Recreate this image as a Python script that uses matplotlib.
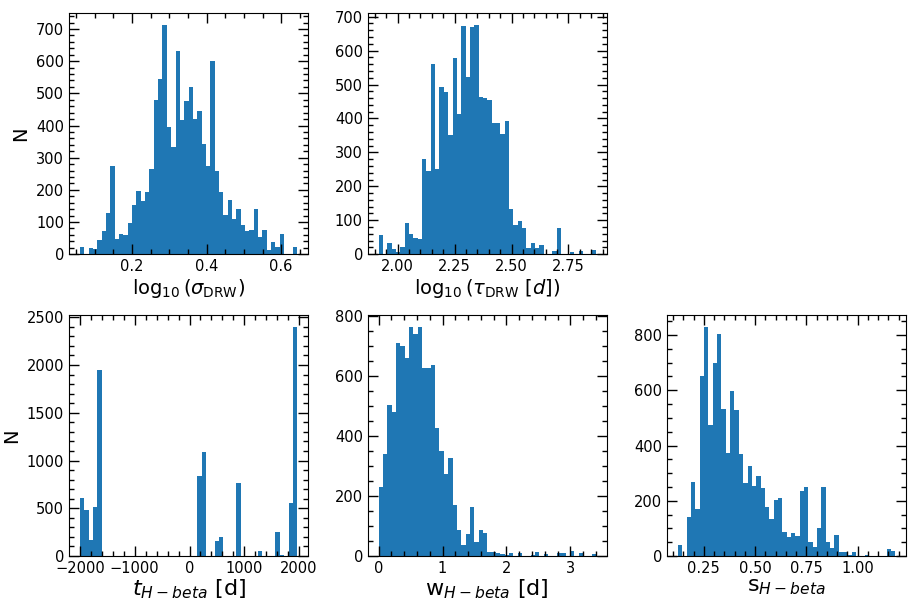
import numpy as np
import matplotlib
matplotlib.use('Agg')
from matplotlib import pyplot as plt
from matplotlib.ticker import MultipleLocator, AutoMinorLocator

# histogram counts (50 bins each)
sigma_range = (0.060, 0.643)
sigma_counts = [22, 0, 20, 16, 44, 72, 129, 273, 47, 62,
                59, 96, 153, 195, 165, 193, 264, 478, 545, 713,
                394, 333, 633, 416, 475, 521, 419, 444, 342, 273,
                600, 260, 193, 122, 168, 109, 140, 91, 72, 75,
                140, 54, 75, 13, 38, 23, 63, 0, 0, 23]

tau_range = (1.916, 2.871)
tau_counts = [57, 0, 33, 16, 6, 22, 92, 60, 48, 45,
              280, 245, 562, 251, 494, 477, 350, 577, 412, 673,
              521, 671, 676, 462, 459, 453, 386, 386, 353, 392,
              133, 86, 98, 77, 19, 33, 19, 27, 0, 0,
              10, 77, 0, 0, 7, 0, 10, 0, 0, 13]

t_range = (-2000, 1965)
t_counts = [605, 480, 167, 511, 1952, 0, 0, 0, 0, 0,
            0, 0, 0, 0, 0, 0, 0, 0, 0, 0,
            0, 0, 0, 0, 0, 0, 0, 835, 1086, 0,
            0, 157, 198, 0, 0, 0, 762, 0, 0, 0,
            0, 52, 0, 0, 0, 250, 10, 0, 553, 2401]

w_range = (0.0, 3.40)
w_counts = [229, 338, 504, 478, 710, 700, 660, 763, 740, 763,
            627, 624, 637, 425, 348, 272, 325, 169, 86, 37,
            73, 163, 46, 86, 76, 13, 13, 10, 7, 3,
            10, 0, 10, 0, 0, 3, 13, 0, 7, 0,
            0, 10, 10, 0, 17, 0, 10, 0, 0, 7]

s_range = (0.124, 1.184)
s_counts = [40, 0, 141, 267, 170, 653, 830, 473, 700, 805,
            531, 372, 599, 527, 368, 264, 325, 253, 289, 245,
            177, 134, 202, 209, 87, 69, 83, 72, 235, 249,
            51, 32, 101, 249, 51, 29, 76, 14, 14, 4,
            14, 0, 0, 4, 0, 0, 0, 0, 25, 18]

xlabels = [r'$\log_{10}(\sigma_{\rm DRW})$',
           r'$\log_{10}(\tau_{\rm DRW}\ [d])$',
           r'$t_{H-beta}$ [d]',
           r'w$_{H-beta}$ [d]',
           r's$_{H-beta}$']
xsteps = [0.2, 0.25, 1000, 1, 0.25]
ysteps = [100, 100, 500, 200, 200]

fig = plt.figure(figsize=(9.24, 6.08), dpi=100)
lefts = [0.0747, 0.398, 0.722]
w, h = 0.2587, 0.396
pos = [(lefts[0], 0.582), (lefts[1], 0.582),
       (lefts[0], 0.0855), (lefts[1], 0.0855), (lefts[2], 0.0855)]

data = [(sigma_range, sigma_counts), (tau_range, tau_counts),
        (t_range, t_counts), (w_range, w_counts), (s_range, s_counts)]

for i, ((lo, hi), counts) in enumerate(data):
    ax = fig.add_axes([pos[i][0], pos[i][1], w, h])
    edges = np.linspace(lo, hi, len(counts) + 1)
    centers = 0.5 * (edges[:-1] + edges[1:])
    ax.hist(centers, bins=edges, weights=counts, color='#1f77b4')
    ax.xaxis.set_major_locator(MultipleLocator(xsteps[i]))
    ax.yaxis.set_major_locator(MultipleLocator(ysteps[i]))
    ax.xaxis.set_minor_locator(AutoMinorLocator())
    ax.yaxis.set_minor_locator(AutoMinorLocator())
    ax.tick_params(which='both', direction='in', top=True, right=True, labelsize=10.5)
    ax.tick_params(which='major', length=7, width=1)
    ax.tick_params(which='minor', length=3.5, width=1)
    if i < 2:
        ax.set_xlabel(xlabels[i], fontsize=14, labelpad=2)
    else:
        ax.set_xlabel(xlabels[i], fontsize=16, labelpad=1)
    if i in (0, 2):
        ax.set_ylabel('N', fontsize=14)

fig.savefig('out.png', dpi=100)
